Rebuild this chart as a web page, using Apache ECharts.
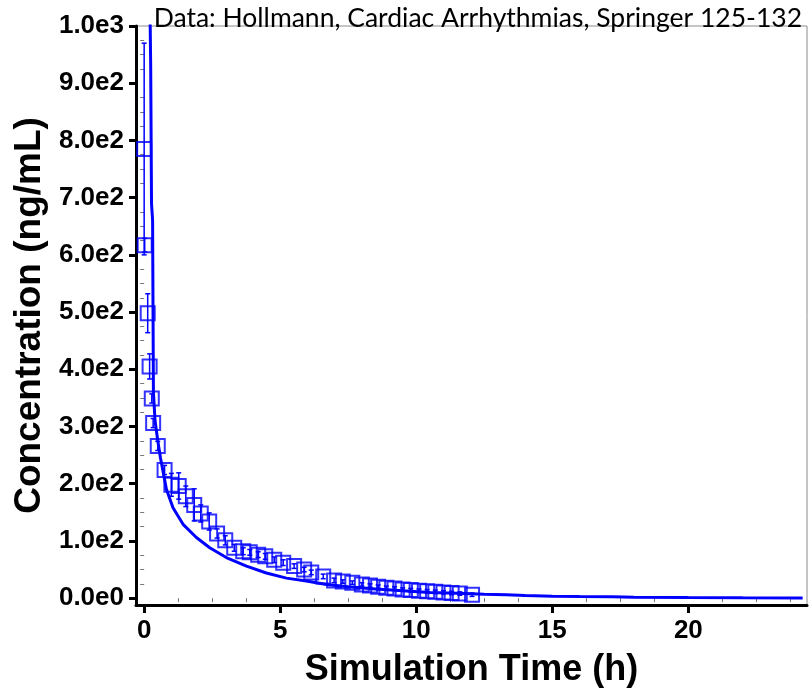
<!DOCTYPE html>
<html>
<head>
<meta charset="utf-8">
<script src="https://cdn.jsdelivr.net/npm/echarts@6/dist/echarts.min.js"></script>
<style>
  html, body { margin: 0; padding: 0; background: #fff; }
  #chart { width: 810px; height: 689px; }
</style>
</head>
<body>
<div id="chart"></div>
<script>
// Simulated plasma concentration (ng/mL) over time (h)
var simTime = [0.17, 0.24, 0.27, 0.31, 0.34, 0.4, 0.5, 0.6, 0.7, 0.82, 1.06, 1.43, 1.92, 2.41, 3.02, 3.76, 4.49, 5.23, 5.96, 6.7, 7.5, 8.5, 9.5, 10.5, 11.5, 12.5, 13.3, 14, 15, 16, 17.2, 18, 20, 22, 24.2];
var simConc = [1200, 930, 690, 660, 360, 310, 275, 245, 220, 190, 158, 129, 106, 88, 71, 56, 44, 35, 30, 24, 20, 16, 13, 10, 8.5, 7, 6, 4.5, 3.5, 3, 2.5, 1.5, 1, 0.6, 0.4];

// Observed concentrations with standard deviations
var obsTime = [0.0, 0.02, 0.13, 0.2, 0.28, 0.33, 0.5, 0.75, 1.0, 1.27, 1.53, 1.84, 2.08, 2.39, 2.68, 2.98, 3.31, 3.64, 3.88, 4.19, 4.45, 4.78, 5.11, 5.51, 5.88, 6.14, 6.58, 6.98, 7.3, 7.65, 8.0, 8.3, 8.6, 8.9, 9.2, 9.5, 9.8, 10.1, 10.4, 10.7, 11.0, 11.3, 11.6, 12.05];
var obsConc = [785, 617, 498, 405, 349, 306, 266, 224, 198, 196, 178, 163, 148, 134, 113, 101, 88, 82, 80, 76, 73, 67, 62, 56, 50, 45, 38, 31, 29, 27, 24, 22, 20, 18, 17, 15, 14, 13, 12, 11, 10, 9, 8, 6];
var obsErr  = [185, 12, 34, 22, 8, 8, 8, 8, 20, 23, 18, 28, 15, 15, 8, 8, 6, 6, 5, 5, 5, 5, 5, 4, 4, 4, 4, 4, 3, 3, 3, 3, 3, 3, 3, 3, 3, 3, 3, 3, 3, 3, 3, 3];

// Axis ticks
var xMajorTicks = [0, 5, 10, 15, 20];
var xMinorTicks = [1.25, 2.5, 3.75, 6.25, 7.5, 8.75, 11.25, 12.5, 13.75, 16.25, 17.5, 18.75, 21.25, 22.5, 23.75];
var yMajorTicks = [0, 100, 200, 300, 400, 500, 600, 700, 800, 900, 1000];
var yMinorTicks = [];
for (var k = 0; k < 1000; k += 25) { if (k % 100 !== 0) yMinorTicks.push(k); }

var BLUE = '#0000ff';
var X_MIN = -0.3, X_MAX = 24.36, Y_MIN = -12, Y_MAX = 1000;
var LABEL_FONT = { fontFamily: 'Liberation Sans, Arial, sans-serif', fontWeight: 'bold', fontSize: 26, color: '#000' };

var simData = simTime.map(function (t, i) { return [t, simConc[i]]; });
var obsData = obsTime.map(function (t, i) { return [t, obsConc[i]]; });
var errData = obsTime.map(function (t, i) { return [t, obsConc[i] - obsErr[i], obsConc[i] + obsErr[i]]; });

var chart = echarts.init(document.getElementById('chart'), null, { renderer: 'canvas' });

chart.setOption({
  animation: false,
  backgroundColor: '#fff',
  title: {
    text: 'Data: Hollmann, Cardiac Arrhythmias, Springer 125-132',
    right: 3, top: 0,
    textStyle: { fontFamily: 'Lato, Open Sans, sans-serif', fontWeight: 'normal', fontSize: 26.5, color: '#000' }
  },
  grid: {
    left: 136, right: 3, top: 26, bottom: 84,
    outerBoundsMode: 'none',
    show: true, borderColor: '#8c8c8c', borderWidth: 1, backgroundColor: 'transparent'
  },
  xAxis: [{
    type: 'value', min: X_MIN, max: X_MAX,
    name: 'Simulation Time (h)', nameLocation: 'middle', nameGap: 47,
    nameTextStyle: { fontFamily: 'Liberation Sans, Arial, sans-serif', fontWeight: 'bold', fontSize: 36, color: '#000' },
    axisLine: { show: true, onZero: false, lineStyle: { color: '#000', width: 3 } },
    axisTick: { show: true, customValues: xMajorTicks, length: 8, lineStyle: { color: '#000', width: 3 } },
    axisLabel: Object.assign({ customValues: xMajorTicks, margin: 13 }, LABEL_FONT),
    splitLine: { show: false }
  }, {
    type: 'value', min: X_MIN, max: X_MAX, position: 'bottom',
    axisLine: { show: false },
    axisTick: { show: true, customValues: xMinorTicks, length: 4, lineStyle: { color: '#777', width: 1 } },
    axisLabel: { show: false },
    splitLine: { show: false }
  }],
  yAxis: [{
    type: 'value', min: Y_MIN, max: Y_MAX,
    name: 'Concentration (ng/mL)', nameLocation: 'middle', nameGap: 85, nameRotate: 90,
    nameTextStyle: { fontFamily: 'Liberation Sans, Arial, sans-serif', fontWeight: 'bold', fontSize: 37, color: '#000' },
    axisLine: { show: true, onZero: false, lineStyle: { color: '#000', width: 3 } },
    axisTick: { show: true, customValues: yMajorTicks, length: 7, lineStyle: { color: '#000', width: 3 } },
    axisLabel: Object.assign({
      customValues: yMajorTicks, margin: 12,
      formatter: function (v) { return v.toExponential(1).replace('+', ''); }
    }, LABEL_FONT),
    splitLine: { show: false }
  }, {
    type: 'value', min: Y_MIN, max: Y_MAX, position: 'left',
    axisLine: { show: false },
    axisTick: { show: true, customValues: yMinorTicks, length: 4, lineStyle: { color: '#777', width: 1 } },
    axisLabel: { show: false },
    splitLine: { show: false }
  }],
  series: [{
    name: 'Simulation',
    type: 'line',
    data: simData,
    showSymbol: false,
    clip: true,
    lineStyle: { color: BLUE, width: 3 },
    z: 3
  }, {
    name: 'Error',
    type: 'custom',
    clip: true,
    data: errData,
    renderItem: function (params, api) {
      var lo = api.coord([api.value(0), api.value(1)]);
      var hi = api.coord([api.value(0), api.value(2)]);
      var cap = 2.5;
      var style = { stroke: BLUE, lineWidth: 1.5, fill: null };
      return {
        type: 'group',
        children: [
          { type: 'line', shape: { x1: lo[0], y1: lo[1], x2: hi[0], y2: hi[1] }, style: style },
          { type: 'line', shape: { x1: hi[0] - cap, y1: hi[1], x2: hi[0] + cap, y2: hi[1] }, style: style },
          { type: 'line', shape: { x1: lo[0] - cap, y1: lo[1], x2: lo[0] + cap, y2: lo[1] }, style: style }
        ]
      };
    },
    encode: { x: 0, y: [1, 2] },
    z: 4
  }, {
    name: 'Observed',
    type: 'scatter',
    data: obsData,
    symbol: 'rect',
    symbolSize: 14,
    itemStyle: { color: 'rgba(0,0,0,0)', borderColor: BLUE, borderWidth: 2 },
    z: 5
  }]
});
</script>
</body>
</html>
